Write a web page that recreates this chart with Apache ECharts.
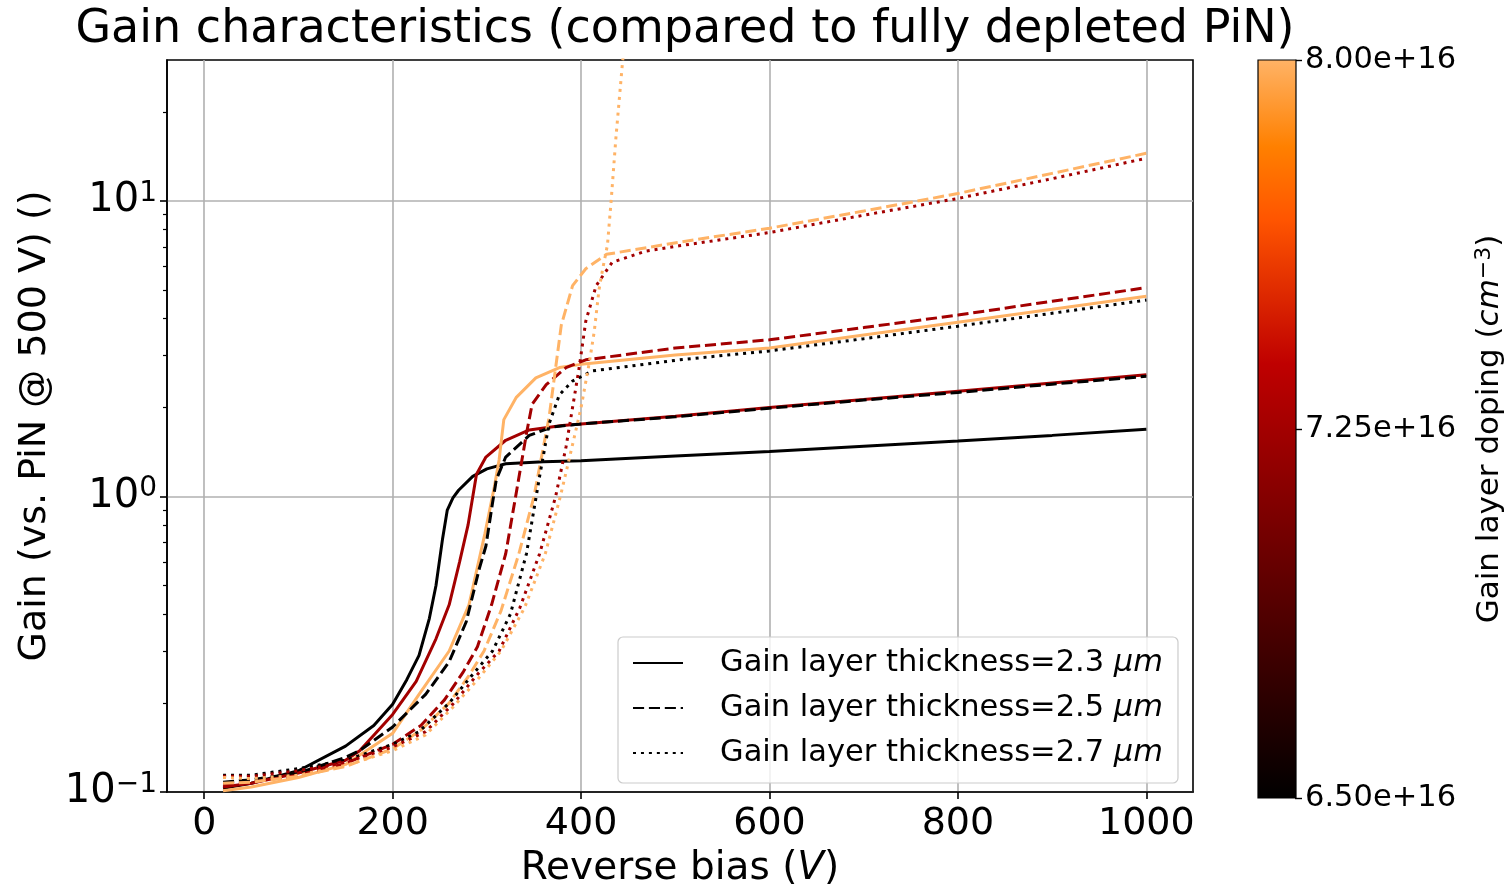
<!DOCTYPE html>
<html>
<head>
<meta charset="utf-8">
<script src="https://cdn.jsdelivr.net/npm/echarts@6/dist/echarts.min.js"></script>
<style>
html,body{margin:0;padding:0;background:#fff;}
#chart{width:1506px;height:893px;}
</style>
</head>
<body>
<div id="chart"></div>
<script>
// ---------------- data ----------------
const thicknesses = ['2.3', '2.5', '2.7'];
const dopingLevels = [6.5e16, 7.25e16, 8.0e16];
const dopingColors = ['#000000', '#A30000', '#FFB366'];
const xTicks = [0, 200, 400, 600, 800, 1000];
const yMajorTicks = [0.1, 1, 10];
const yMinorTicks = [0.2, 0.3, 0.4, 0.5, 0.6, 0.7, 0.8, 0.9, 2, 3, 4, 5, 6, 7, 8, 9, 20];
const cbTicks = [6.5e16, 7.25e16, 8.0e16];

// thickness 2.3 um
const curve_23_650 = [[20,0.103],[50,0.107],[100,0.118],[150,0.143],[180,0.168],[200,0.198],[215,0.24],[228,0.29],[239,0.387],[246,0.5],[253,0.72],[258,0.9],[264,0.99],[270,1.05],[285,1.17],[300,1.24],[320,1.29],[360,1.31],[400,1.32],[500,1.37],[600,1.42],[700,1.48],[800,1.54],[900,1.61],[1000,1.69]];
const curve_23_725 = [[20,0.104],[50,0.107],[100,0.116],[150,0.128],[165,0.138],[200,0.183],[225,0.237],[246,0.33],[260,0.43],[271,0.6],[280,0.8],[289,1.19],[299,1.36],[320,1.55],[345,1.68],[380,1.74],[400,1.76],[500,1.87],[600,2.0],[700,2.13],[800,2.27],[900,2.42],[1000,2.58]];
const curve_23_800 = [[20,0.101],[50,0.104],[100,0.112],[150,0.124],[200,0.158],[228,0.214],[260,0.3],[281,0.43],[298,0.75],[308,1.08],[313,1.33],[318,1.82],[331,2.16],[352,2.52],[377,2.73],[400,2.8],[500,3.01],[600,3.18],[700,3.52],[800,3.89],[900,4.3],[1000,4.76]];
// thickness 2.5 um
const curve_25_650 = [[20,0.108],[50,0.11],[100,0.116],[150,0.131],[165,0.138],[200,0.166],[235,0.214],[260,0.276],[278,0.376],[292,0.57],[299,0.68],[306,0.95],[310,1.14],[320,1.36],[345,1.61],[370,1.72],[400,1.76],[500,1.86],[600,1.99],[700,2.12],[800,2.25],[900,2.4],[1000,2.55]];
const curve_25_725 = [[20,0.106],[50,0.108],[100,0.114],[150,0.125],[200,0.145],[230,0.168],[255,0.205],[275,0.255],[290,0.31],[305,0.43],[320,0.64],[331,1.02],[342,1.63],[348,2.05],[363,2.39],[384,2.73],[405,2.9],[500,3.18],[600,3.39],[700,3.73],[800,4.11],[900,4.58],[1000,5.09]];
const curve_25_800 = [[20,0.107],[50,0.108],[100,0.113],[150,0.122],[200,0.14],[230,0.162],[260,0.2],[280,0.245],[297,0.3],[315,0.41],[334,0.64],[350,1.0],[366,1.85],[379,3.8],[391,5.17],[405,5.9],[427,6.6],[504,7.25],[600,8.09],[700,9.25],[800,10.6],[900,12.4],[1000,14.5]];
// thickness 2.7 um
const curve_27_650 = [[20,0.114],[50,0.114],[100,0.12],[150,0.128],[200,0.145],[228,0.16],[260,0.2],[285,0.25],[306,0.3],[325,0.4],[342,0.64],[356,1.17],[366,1.76],[377,2.21],[391,2.46],[412,2.66],[504,2.9],[600,3.11],[700,3.42],[800,3.77],[900,4.17],[1000,4.62]];
const curve_27_725 = [[20,0.113],[50,0.113],[100,0.118],[150,0.126],[200,0.142],[235,0.16],[265,0.2],[290,0.25],[313,0.3],[335,0.42],[356,0.64],[373,1.0],[384,1.47],[398,2.73],[405,3.92],[416,5.17],[433,6.2],[469,6.77],[504,7.05],[600,7.82],[700,8.95],[800,10.2],[900,11.9],[1000,13.95]];
const curve_27_800 = [[20,0.112],[50,0.111],[100,0.114],[150,0.123],[200,0.138],[235,0.156],[265,0.195],[290,0.24],[315,0.3],[340,0.42],[362,0.64],[378,1.0],[391,1.5],[400,2.0],[409,2.87],[414,3.62],[419,5.0],[423,5.9],[428,7.1],[432,10.1],[437,16.4],[444,29.5],[447,36]];

const curves = [
  [curve_23_650, curve_23_725, curve_23_800],
  [curve_25_650, curve_25_725, curve_25_800],
  [curve_27_650, curve_27_725, curve_27_800]
];
// ---------------- styling ----------------
const FONT = 'DejaVu Sans';
const LW = 3;
const lineTypes = ['solid', [LW * 3.7, LW * 1.6], [LW * 1.0, LW * 1.65]];
const legendNames = thicknesses.map(t => 'Gain layer thickness=' + t + ' μm');

const series = [];
curves.forEach((row, ti) => {
  row.forEach((data, di) => {
    series.push({
      type: 'line',
      name: 't' + thicknesses[ti] + '_d' + dopingLevels[di],
      data: data,
      xAxisIndex: 0, yAxisIndex: 0,
      symbol: 'none', showSymbol: false,
      smooth: false,
      clip: true,
      lineStyle: { color: dopingColors[di], width: LW, type: lineTypes[ti], cap: 'butt' },
      z: 3
    });
  });
});
// legend proxies (one point outside the visible x range, so nothing is drawn)
legendNames.forEach((nm, ti) => {
  series.push({
    type: 'line', name: nm, data: [[-1000, 1], [-900, 1]], xAxisIndex: 0, yAxisIndex: 0,
    symbol: 'none', showSymbol: false, clip: true,
    lineStyle: { color: '#000', width: 2.2, type: lineTypes[ti], cap: 'butt' },
    itemStyle: { color: '#000' }
  });
});

function supExp(v) {
  const e = Math.round(Math.log10(v));
  return '10{sup|' + (e < 0 ? '\u2212' + (-e) : e) + '}';
}

const option = {
  animation: false,
  backgroundColor: '#ffffff',
  textStyle: { fontFamily: FONT },
  title: {
    text: 'Gain characteristics (compared to fully depleted PiN)',
    left: 680, top: 2, textAlign: 'center',
    textStyle: { fontFamily: FONT, fontSize: 46, fontWeight: 'normal', color: '#000' }
  },
  grid: [
    { left: 167, right: 313, top: 60, bottom: 95, show: true, borderColor: '#000', borderWidth: 1.6, backgroundColor: 'transparent', containLabel: false },
    { left: 1258, width: 38, top: 60, bottom: 95, show: false }
  ],
  legend: {
    data: legendNames,
    orient: 'vertical',
    left: 618, top: 637,
    padding: [9, 15, 13, 14],
    itemWidth: 50, itemHeight: 14, itemGap: 11,
    backgroundColor: 'rgba(255,255,255,0.8)',
    borderColor: '#cccccc', borderWidth: 1.2, borderRadius: 5,
    selectedMode: false,
    itemStyle: { opacity: 0 },
    formatter: name => '{gap|}' + name.replace('μm', '{i|μm}'),
    textStyle: {
      fontFamily: FONT, fontSize: 30.5, color: '#000', lineHeight: 34,
      rich: {
        gap: { width: 32 },
        i: { fontStyle: 'italic', fontSize: 30.5, fontFamily: FONT }
      }
    }
  },
  xAxis: [
    {
      type: 'value', gridIndex: 0, min: -39.5, max: 1049.5,
      name: 'Reverse bias ({i|V})', nameLocation: 'middle', nameGap: 57,
      nameTextStyle: { fontFamily: FONT, fontSize: 39, color: '#000', rich: { i: { fontStyle: 'italic', fontSize: 39, fontFamily: FONT } } },
      axisLine: { show: true, onZero: false, lineStyle: { color: '#000', width: 1.6 } },
      axisTick: { show: true, customValues: xTicks, length: 7, lineStyle: { color: '#000', width: 1.6 } },
      axisLabel: { customValues: xTicks, fontFamily: FONT, fontSize: 38, color: '#000', margin: 13, formatter: v => String(v) },
      splitLine: { show: true, lineStyle: { color: '#b0b0b0', width: 1.6 } }
    },
    { type: 'value', gridIndex: 1, min: 0, max: 1, show: false }
  ],
  yAxis: [
    {
      type: 'log', logBase: 10, gridIndex: 0, min: 0.1, max: 30,
      name: 'Gain (vs. PiN @ 500 V) ()', nameLocation: 'middle', nameGap: 112, nameRotate: 90,
      nameTextStyle: { fontFamily: FONT, fontSize: 38, color: '#000' },
      axisLine: { show: true, onZero: false, lineStyle: { color: '#000', width: 1.6 } },
      axisTick: { show: true, customValues: yMajorTicks, length: 7, lineStyle: { color: '#000', width: 1.6 } },
      axisLabel: {
        customValues: yMajorTicks, margin: 10, formatter: supExp,
        fontFamily: FONT, fontSize: 40, color: '#000',
        rich: { sup: { fontSize: 28, fontFamily: FONT, color: '#000', verticalAlign: 'top', padding: [0, 0, 15, 0] } }
      },
      splitLine: { show: true, lineStyle: { color: '#b0b0b0', width: 1.6 } }
    },
    {
      type: 'log', logBase: 10, gridIndex: 0, min: 0.1, max: 30, position: 'left', offset: 0,
      axisLine: { show: false, onZero: false },
      axisTick: { show: true, customValues: yMinorTicks, length: 4, lineStyle: { color: '#000', width: 1.2 } },
      axisLabel: { show: false },
      splitLine: { show: false }
    },
    {
      type: 'value', gridIndex: 1, min: 6.5e16, max: 8.0e16, position: 'right',
      name: 'Gain layer doping ({i|cm}{sup|\u22123})', nameLocation: 'middle', nameRotate: 90, nameGap: 178,
      nameTextStyle: {
        fontFamily: FONT, fontSize: 31, color: '#000',
        rich: {
          i: { fontStyle: 'italic', fontSize: 31, fontFamily: FONT },
          sup: { fontSize: 22, fontFamily: FONT, verticalAlign: 'top', padding: [0, 0, 11, 0] }
        }
      },
      axisLine: { show: false, onZero: false },
      axisTick: { show: true, customValues: cbTicks, length: 7, lineStyle: { color: '#000', width: 1.4 } },
      axisLabel: { customValues: cbTicks, margin: 10, fontFamily: FONT, fontSize: 30.5, color: '#000', formatter: v => Number(v).toExponential(2) },
      splitLine: { show: false }
    }
  ],
  graphic: [
    {
      type: 'rect', z: 1,
      shape: { x: 1258, y: 60, width: 38, height: 738 },
      style: {
        fill: { type: 'linear', x: 0, y: 1, x2: 0, y2: 0, colorStops: [
          { offset: 0, color: '#000000' },
          { offset: 0.588, color: '#BF0000' },
          { offset: 0.784, color: '#FF5500' },
          { offset: 0.882, color: '#FF8000' },
          { offset: 1, color: '#FFB366' }
        ] },
        stroke: '#000', lineWidth: 1.2
      }
    }
  ],
  series: series
};

const chart = echarts.init(document.getElementById('chart'), null, { renderer: 'canvas' });
chart.setOption(option);
</script>
</body>
</html>
